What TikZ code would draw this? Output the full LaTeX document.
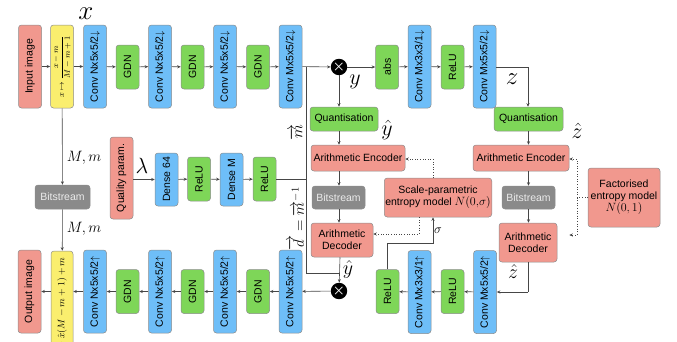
\RequirePackage{fix-cm}
\documentclass[tikz,border=0pt]{standalone}
\usepackage{fontspec}
\setmainfont{Liberation Sans}
\usepackage{amsmath}
\usetikzlibrary{arrows.meta}
\definecolor{salmon}{RGB}{241,152,142}
\definecolor{yel}{RGB}{250,238,110}
\definecolor{blu}{RGB}{110,190,248}
\definecolor{grn}{RGB}{126,214,88}
\definecolor{bsg}{RGB}{138,138,138}
\definecolor{lin}{RGB}{70,70,70}
\newcommand{\vtx}[1]{\rotatebox{90}{#1}}
\begin{document}
\begin{tikzpicture}[x=1pt,y=-1pt,
  box/.style={draw=black!45, rounded corners=3pt, line width=0.5pt, inner sep=1pt, align=center,
    font=\fontsize{10.5}{12}\selectfont},
  tall/.style={box, minimum width=23pt, minimum height=83pt},
  short/.style={box, minimum width=23pt, minimum height=44pt},
  sal/.style={fill=salmon}, yl/.style={fill=yel}, bl/.style={fill=blu}, gr/.style={fill=grn},
  bs/.style={box, fill=bsg, text=white!92!black, minimum width=53pt, minimum height=23pt},
  mulc/.style={circle, fill=black, minimum size=16pt, inner sep=0pt, text=white,
    font=\fontsize{14}{14}\selectfont\boldmath},
  con/.style={draw=lin, line width=0.6pt, -{Stealth[length=3.5pt,width=3pt]}},
  ln/.style={draw=lin, line width=0.6pt},
  dot/.style={draw=lin, line width=0.6pt, dotted, -{Stealth[length=3.5pt,width=3pt]}},
  lab/.style={inner sep=0pt}
]
\useasboundingbox (0,0) rectangle (677,341);
% top row
\node[tall,sal] (inp) at (30,66.5) {\vtx{Input image}};
\node[tall,yl] (norm) at (62,66.5) {\vtx{\fontsize{8}{9}\selectfont$x\mapsto\dfrac{x-m}{M-m+1}$}};
\node[tall,bl] (c1) at (95,66.5) {\vtx{Conv Nx5x5/2$\downarrow$}};
\node[short,gr] (g1) at (127.5,67) {\vtx{GDN}};
\node[tall,bl] (c2) at (160,66.5) {\vtx{Conv Nx5x5/2$\downarrow$}};
\node[short,gr] (g2) at (192.5,67) {\vtx{GDN}};
\node[tall,bl] (c3) at (225,66.5) {\vtx{Conv Nx5x5/2$\downarrow$}};
\node[short,gr] (g3) at (258,67) {\vtx{GDN}};
\node[tall,bl] (c4) at (290.5,66.5) {\vtx{Conv Mx5x5/2$\downarrow$}};
\node[mulc] (mul1) at (339,67) {$\times$};
\node[short,gr] (abs) at (387,67) {\vtx{abs}};
\node[tall,bl] (h1) at (419.5,66.5) {\vtx{Conv Mx3x3/1$\downarrow$}};
\node[short,gr] (r1) at (452.5,67) {\vtx{ReLU}};
\node[tall,bl] (h2) at (484.5,66.5) {\vtx{Conv Mx5x5/2$\downarrow$}};
\coordinate (zc) at (528,67);
% middle left
\node[bs,minimum width=55pt,minimum height=24pt] (bsl) at (62.5,197) {Bitstream};
\node[tall,sal,minimum height=82pt] (qp) at (121.5,178) {\vtx{Quality param.}};
\node[box,bl,minimum width=23pt,minimum height=53pt] (d1) at (166.5,179.5) {\vtx{Dense 64}};
\node[short,gr] (rr1) at (199,179) {\vtx{ReLU}};
\node[box,bl,minimum width=23pt,minimum height=53pt] (d2) at (231.5,179.5) {\vtx{Dense M}};
\node[short,gr] (rr2) at (264.5,179) {\vtx{ReLU}};
\coordinate (mj) at (306,179);
\coordinate (mt) at (306,67);
\coordinate (mb) at (306,273);
\coordinate (mr) at (340,273);
% y branch
\node[box,gr,minimum width=68pt,minimum height=24pt] (qy) at (344,119) {Quantisation};
\node[box,sal,minimum width=94pt,minimum height=26pt] (aey) at (358,158) {Arithmetic Encoder};
\node[bs] (bsy) at (338.5,197.5) {Bitstream};
\node[box,sal,minimum width=62pt,minimum height=34pt] (ady) at (342,240) {Arithmetic\\Decoder};
\node[box,sal,minimum width=102pt,minimum height=39pt] (sp) at (438,197.5) {Scale-parametric\\entropy model {\fontsize{12}{12}\selectfont$N(0,\!\sigma)$}};
% z branch
\node[box,gr,minimum width=69pt,minimum height=24pt] (qz) at (528.5,119) {Quantisation};
\node[box,sal,minimum width=96pt,minimum height=26pt] (aez) at (521,158) {Arithmetic Encoder};
\node[bs] (bsz) at (528.5,197.5) {Bitstream};
\node[box,sal,minimum width=58pt,minimum height=39pt] (adz) at (528,242.5) {Arithmetic\\Decoder};
\node[box,sal,minimum width=72pt,minimum height=59pt] (fe) at (624,197.5) {Factorised\\entropy model\\{\fontsize{12}{12}\selectfont$N(0,1)$}};
% bottom row
\node[tall,bl] (hc2) at (485,292) {\vtx{Conv Mx5x5/2$\uparrow$}};
\node[short,gr] (hr2) at (452.5,291.5) {\vtx{ReLU}};
\node[tall,bl] (hc1) at (419.5,292) {\vtx{Conv Mx3x3/1$\uparrow$}};
\node[short,gr] (hr1) at (387.5,291.5) {\vtx{ReLU}};
\node[mulc] (mul2) at (339,291) {$\times$};
\node[tall,bl] (dc4) at (290.5,291.5) {\vtx{Conv Nx5x5/2$\uparrow$}};
\node[short,gr] (dg3) at (258,291.5) {\vtx{GDN}};
\node[tall,bl] (dc3) at (225,291.5) {\vtx{Conv Nx5x5/2$\uparrow$}};
\node[short,gr] (dg2) at (192.5,291.5) {\vtx{GDN}};
\node[tall,bl] (dc2) at (160,291.5) {\vtx{Conv Nx5x5/2$\uparrow$}};
\node[short,gr] (dg1) at (127.5,291.5) {\vtx{GDN}};
\node[tall,bl] (dc1) at (95,291.5) {\vtx{Conv Nx5x5/2$\uparrow$}};
\node[box,yl,minimum width=22pt,minimum height=115pt] (den) at (62,308.5) {\vtx{\fontsize{9.5}{10}\selectfont$\hat{x}\mapsto\hat{x}(M-m+1)+m$}};
\node[tall,sal] (out) at (29.5,291.5) {\vtx{Output image}};
% labels
\node[lab,font=\fontsize{27}{27}\selectfont] (lx) at (86,14) {$x$};
\node[lab,font=\fontsize{22}{22}\selectfont] (ly) at (355,82) {$y$};
\node[lab,font=\fontsize{25}{25}\selectfont] (lz) at (512,79) {$z$};
\node[lab,font=\fontsize{22}{22}\selectfont] (lyh) at (387,130) {$\hat{y}$};
\node[lab,font=\fontsize{22}{22}\selectfont] (lzh) at (577,131) {$\hat{z}$};
\node[lab,font=\fontsize{20}{20}\selectfont] (lyh2) at (348,269) {$\hat{y}$};
\node[lab,font=\fontsize{20}{20}\selectfont] (lzh2) at (513,272) {$\hat{z}$};
\node[lab,font=\fontsize{13}{13}\selectfont] (ls) at (438,231) {$\sigma$};
\node[lab,font=\fontsize{15}{15}\selectfont] (lmm1) at (84,158) {$M,m$};
\node[lab,font=\fontsize{15}{15}\selectfont] (lmm2) at (84,229) {$M,m$};
\node[lab,font=\fontsize{22}{22}\selectfont] (ll) at (142,166) {$\lambda$};
\node[lab,font=\fontsize{16}{16}\selectfont] (lmv) at (296,132) {\vtx{$\overrightarrow{m}$}};
\node[lab,font=\fontsize{15}{15}\selectfont] (ldv) at (296,219) {\vtx{$\overrightarrow{d}=\overrightarrow{m}^{-1}$}};
\node[lab,font=\fontsize{24}{24}\selectfont] (lxh) at (87,352) {$\hat{x}$};
% connectors top
\draw[con] (inp) -- (norm);
\draw[con] (norm) -- (c1);
\draw[con] (c1) -- (g1);
\draw[con] (g1) -- (c2);
\draw[con] (c2) -- (g2);
\draw[con] (g2) -- (c3);
\draw[con] (c3) -- (g3);
\draw[con] (g3) -- (c4);
\draw[con] (c4) -- (mul1);
\draw[con] (mul1) -- (abs);
\draw[con] (abs) -- (h1);
\draw[con] (h1) -- (r1);
\draw[con] (r1) -- (h2);
\draw[ln] (h2.east |- zc) -- (zc);
\draw[con] (zc) -- (qz.north -| zc);
\draw[con] (mul1) -- (qy.north -| mul1);
% left
\draw[con] (norm) -- (bsl);
\draw[con] (bsl) -- (den);
\draw[con] (qp.east |- d1) -- (d1);
\draw[con] (d1) -- (rr1);
\draw[con] (rr1) -- (d2);
\draw[con] (d2) -- (rr2);
\draw[ln] (rr2.east |- mj) -- (mj);
\draw[ln] (mt) -- (mb) -- (mr);
% y branch
\draw[con] (qy.south -| mul1) -- (aey.north -| mul1);
\draw[con] (aey.south -| mul1) -- (bsy.north -| mul1);
\draw[con] (bsy.south -| mul1) -- (ady.north -| mul1);
\draw[con] (ady.south -| mr) -- (mul2);
\draw[dot] (sp.north -| 433,0) -- (433,159) -- (aey.east |- 0,159);
\draw[dot] (sp.south -| 419,0) -- (419,234) -- (ady.east |- 0,234);
\draw[con] (hr1.north) -- (387.5,243) -- (433,243) -- (sp.south -| 433,0);
% z branch
\draw[con] (qz) -- (aez.north -| qz);
\draw[con] (aez.south -| qz) -- (bsz);
\draw[con] (bsz) -- (adz.north -| bsz);
\draw[ln] (adz.south) -- (528,292);
\draw[con] (528,292) -- (hc2);
\draw[ln, dotted] (fe.west) -- (577,197.5);
\draw[dot] (577,197.5) -- (577,159) -- (aez.east |- 0,159);
\draw[dot, shorten >=12pt] (577,197.5) -- (577,235) -- (adz.east |- 0,235);
% bottom row
\draw[con] (hc2) -- (hr2);
\draw[con] (hr2) -- (hc1);
\draw[con] (hc1) -- (hr1);
\draw[con] (mul2) -- (dc4);
\draw[con] (dc4) -- (dg3);
\draw[con] (dg3) -- (dc3);
\draw[con] (dc3) -- (dg2);
\draw[con] (dg2) -- (dc2);
\draw[con] (dc2) -- (dg1);
\draw[con] (dg1) -- (dc1);
\draw[con] (dc1) -- (den.east |- dc1);
\draw[con] (den.west |- out) -- (out);
\end{tikzpicture}
\end{document}
